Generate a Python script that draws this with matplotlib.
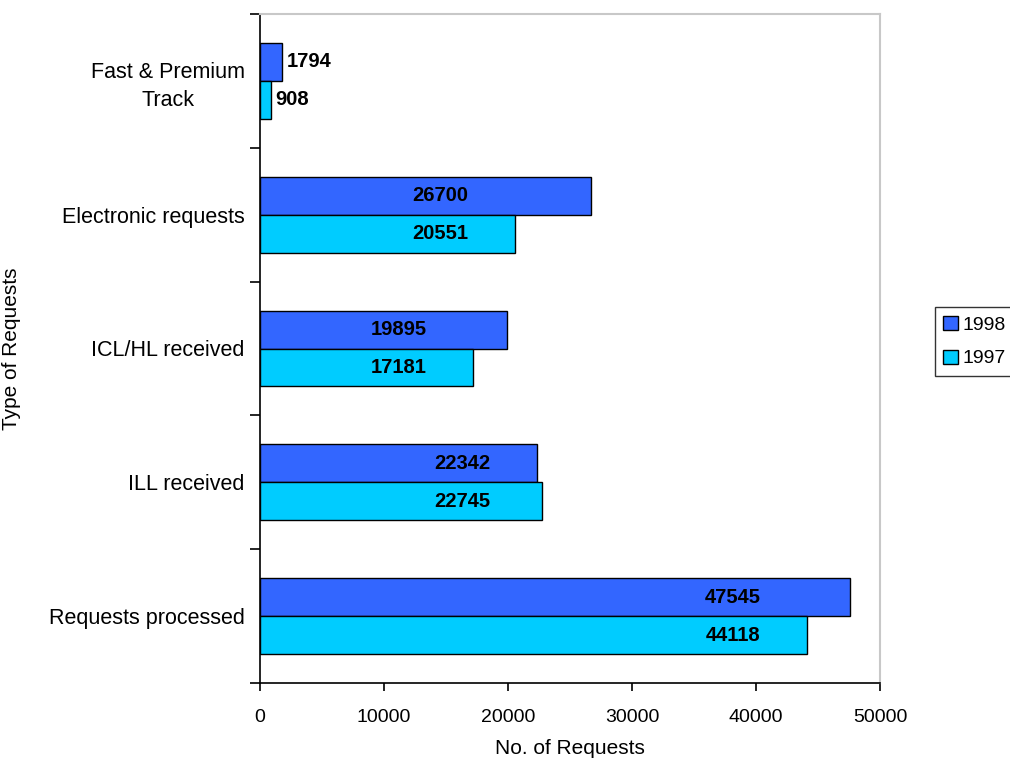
import matplotlib.pyplot as plt
import numpy as np

plt.rcParams['font.family'] = ['Liberation Sans', 'DejaVu Sans']

categories = ['Requests processed', 'ILL received', 'ICL/HL received',
              'Electronic requests', 'Fast & Premium\nTrack']
req_1998 = [47545, 22342, 19895, 26700, 1794]
req_1997 = [44118, 22745, 17181, 20551, 908]
years = ['1998', '1997']

fig = plt.figure(figsize=(10.10, 7.61), dpi=100)
ax = fig.add_axes([260 / 1010, 1 - 683 / 761, 620 / 1010, 669 / 761])

ys = np.arange(len(categories))
h = 0.284
b98 = ax.barh(ys + h / 2, req_1998, height=h, color='#3366ff',
              edgecolor='black', linewidth=1, label=years[0])
b97 = ax.barh(ys - h / 2, req_1997, height=h, color='#00ccff',
              edgecolor='black', linewidth=1, label=years[1])

# value labels: both labels of a group sit at the same x inside the shorter bar,
# short bars get their label just past the end
label_font = dict(fontsize=14.5, fontweight='bold')
for i in range(len(categories)):
    shortest = min(req_1998[i], req_1997[i])
    for bars, vals in [(b98, req_1998), (b97, req_1997)]:
        bar, v = bars[i], vals[i]
        yc = bar.get_y() + bar.get_height() / 2
        if shortest > 5000:
            ax.text(shortest - 6000, yc, str(v), ha='center', va='center', **label_font)
        else:
            ax.text(v + 350, yc, str(v), ha='left', va='center', **label_font)

ax.set_xlim(0, 50000)
ax.set_ylim(-0.5, len(categories) - 0.5)
ax.set_xticks(np.arange(0, 50001, 10000))
ax.set_yticks(np.arange(-0.5, len(categories), 1.0))
ax.set_yticklabels([])
ax.set_yticks(ys, minor=True)
ax.set_yticklabels(categories, minor=True, fontsize=15.5, linespacing=1.4,
                   multialignment='center')
ax.tick_params(axis='y', which='minor', length=0, pad=11)
ax.tick_params(axis='y', which='major', length=7, width=1.2, direction='out')
ax.tick_params(axis='x', length=6, width=1.2, direction='out', labelsize=14, pad=13)

for s in ['left', 'bottom']:
    ax.spines[s].set_linewidth(1.2)
for s in ['top', 'right']:
    ax.spines[s].set_color('#c8c8c8')
    ax.spines[s].set_linewidth(1.5)

ax.set_xlabel('No. of Requests', fontsize=15)
ax.xaxis.set_label_coords(0.5, -0.084)
ax.set_ylabel('Type of Requests', fontsize=15)
ax.yaxis.set_label_coords(-0.385, 0.5)

leg = ax.legend(loc='center left', bbox_to_anchor=(1.088, 0.51), fontsize=14,
                frameon=True, fancybox=False, edgecolor='black',
                handlelength=0.75, handleheight=0.75, handletextpad=0.25,
                borderpad=0.45, borderaxespad=0, labelspacing=0.8)
leg.get_frame().set_linewidth(1.0)

fig.savefig('out.png', dpi=100)
